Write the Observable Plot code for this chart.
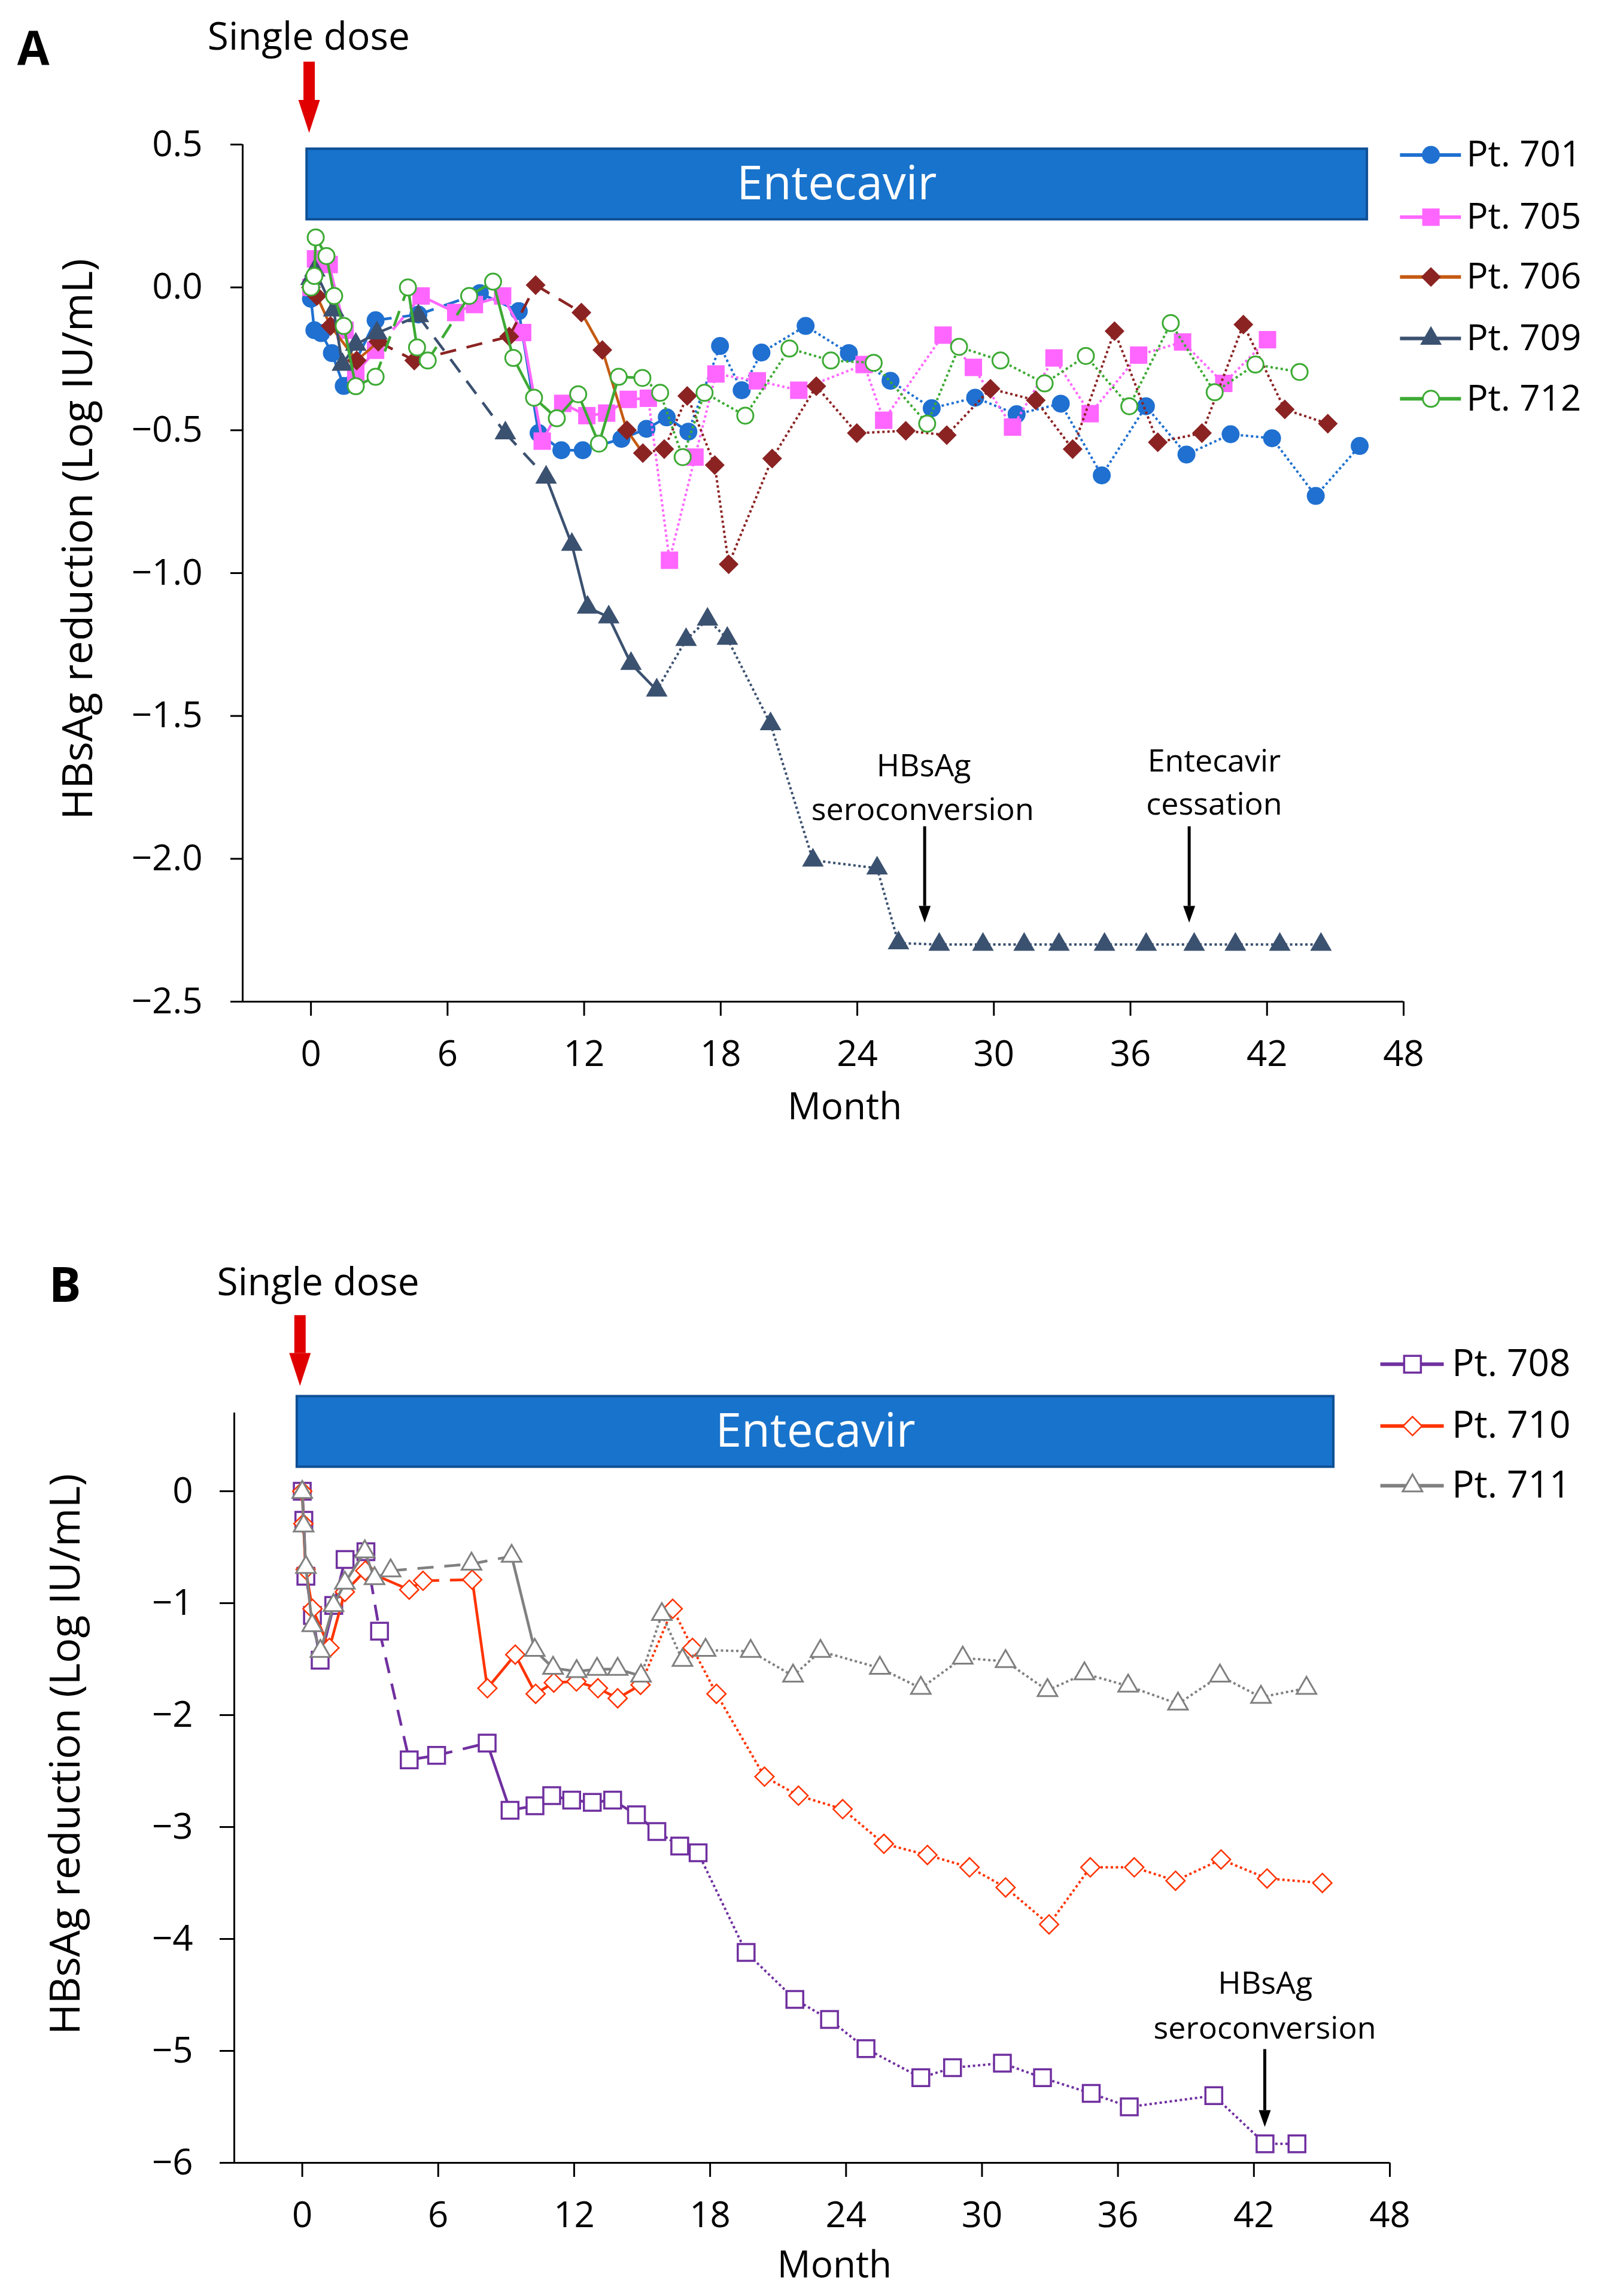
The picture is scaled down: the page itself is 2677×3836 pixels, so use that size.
<!DOCTYPE html>
<html><head><meta charset="utf-8">
<script src="https://cdn.jsdelivr.net/npm/d3@7"></script>
<script src="https://cdn.jsdelivr.net/npm/@observablehq/plot@0.6"></script>
<style>
html,body{margin:0;padding:0;background:#fff;}
#chart{width:2677px;height:3836px;position:relative;background:#fff;}
#chart svg{display:block;}
#chart g[aria-label^="x-axis"] text,#chart g[aria-label^="y-axis"] text{font-size:60px;font-family:'Open Sans',sans-serif;fill:#000;}
#chart g[aria-label^="x-axis"] path,#chart g[aria-label^="y-axis"] path,#chart g[aria-label^="x-axis"] line,#chart g[aria-label^="y-axis"] line{stroke-width:3px;stroke:#000;}
</style></head><body><div id="chart"></div>
<script>
// ---------------- Panel A data ----------------
const pt701Month = [0,0.15,0.45,0.92,1.44,2.84,4.72,7.42,9.13,10.0,11.0,11.94,13.64,14.74,15.63,16.58,17.97,18.92,19.79,21.73,23.63,25.46,27.27,29.18,31.0,32.94,34.74,36.68,38.46,40.4,42.22,44.14,46.07];
const pt701Value = [-0.04,-0.15,-0.16,-0.23,-0.345,-0.115,-0.095,-0.02,-0.083,-0.51,-0.57,-0.57,-0.53,-0.495,-0.455,-0.505,-0.205,-0.36,-0.228,-0.135,-0.23,-0.327,-0.423,-0.386,-0.444,-0.407,-0.658,-0.416,-0.585,-0.514,-0.528,-0.73,-0.555];
const pt705Month = [0,0.2,0.8,1.5,1.97,2.84,4.84,6.36,7.18,8.42,9.3,10.16,11.06,12.12,12.99,13.94,14.82,15.75,16.87,17.79,19.61,21.43,24.3,25.16,27.77,29.1,30.82,32.64,34.23,36.36,38.29,40.1,42.02];
const pt705Value = [0.0,0.1,0.08,-0.15,-0.30,-0.22,-0.03,-0.088,-0.06,-0.03,-0.158,-0.538,-0.406,-0.449,-0.44,-0.392,-0.388,-0.955,-0.594,-0.303,-0.327,-0.36,-0.27,-0.465,-0.167,-0.28,-0.489,-0.247,-0.442,-0.237,-0.191,-0.336,-0.183];
const pt706Month = [0,0.26,0.86,2.01,2.96,4.54,8.71,9.87,11.88,12.8,13.88,14.58,15.52,16.53,17.74,18.35,20.26,22.2,23.98,26.13,27.93,29.85,31.84,33.46,35.3,37.2,39.14,40.96,42.78,44.67];
const pt706Value = [0.0,-0.03,-0.135,-0.256,-0.19,-0.256,-0.172,0.008,-0.088,-0.219,-0.50,-0.58,-0.566,-0.38,-0.622,-0.969,-0.599,-0.346,-0.51,-0.502,-0.517,-0.355,-0.395,-0.566,-0.153,-0.542,-0.51,-0.13,-0.427,-0.477];
const pt709Month = [0,0.17,1.0,1.38,1.97,2.9,4.72,8.54,10.33,11.46,12.15,13.08,14.06,15.19,16.48,17.42,18.29,20.19,22.05,24.87,25.81,27.6,29.52,31.33,32.86,34.86,36.69,38.8,40.61,42.56,44.37];
const pt709Value = [0.03,0.06,-0.08,-0.27,-0.2,-0.16,-0.1,-0.51,-0.665,-0.9,-1.12,-1.154,-1.317,-1.41,-1.233,-1.162,-1.229,-1.528,-2.005,-2.033,-2.295,-2.3,-2.3,-2.3,-2.3,-2.3,-2.3,-2.3,-2.3,-2.3,-2.3];
const pt712Month = [0,0.15,0.21,0.68,1.02,1.44,1.97,2.84,4.26,4.66,5.13,6.95,8.0,8.89,9.8,10.8,11.74,12.65,13.52,14.56,15.34,16.33,17.29,19.08,21.02,22.84,24.72,27.07,28.47,30.29,32.23,34.04,35.95,37.77,39.7,41.49,43.43];
const pt712Value = [0.0,0.04,0.175,0.11,-0.03,-0.135,-0.346,-0.313,0.0,-0.21,-0.256,-0.03,0.02,-0.247,-0.386,-0.458,-0.374,-0.547,-0.313,-0.317,-0.369,-0.594,-0.369,-0.449,-0.214,-0.256,-0.264,-0.477,-0.208,-0.256,-0.336,-0.24,-0.416,-0.125,-0.367,-0.27,-0.296];

// ---------------- Panel B data ----------------
const pt708Month = [0,0.07,0.16,0.45,0.79,1.39,1.89,2.81,3.41,4.72,5.93,8.16,9.17,10.27,11.01,11.89,12.8,13.7,14.75,15.65,16.66,17.47,19.59,21.74,23.27,24.88,27.3,28.7,30.9,32.67,34.82,36.5,40.23,42.49,43.9];
const pt708Value = [0,-0.26,-0.76,-1.11,-1.51,-1.02,-0.61,-0.54,-1.25,-2.40,-2.36,-2.25,-2.85,-2.81,-2.72,-2.76,-2.78,-2.76,-2.89,-3.04,-3.17,-3.23,-4.12,-4.54,-4.72,-4.98,-5.24,-5.15,-5.11,-5.24,-5.38,-5.50,-5.40,-5.83,-5.83];
const pt710Month = [0,0.05,0.15,0.45,1.2,1.88,2.78,4.72,5.33,7.5,8.17,9.4,10.3,11.1,12.1,13.05,13.92,14.93,16.35,17.22,18.28,20.4,21.9,23.85,25.67,27.59,29.45,31.04,32.96,34.78,36.72,38.54,40.55,42.58,45.02];
const pt710Value = [0,-0.29,-0.70,-1.05,-1.40,-0.90,-0.71,-0.88,-0.80,-0.79,-1.76,-1.46,-1.81,-1.71,-1.70,-1.76,-1.85,-1.73,-1.05,-1.40,-1.81,-2.55,-2.72,-2.84,-3.15,-3.25,-3.36,-3.54,-3.87,-3.36,-3.36,-3.48,-3.29,-3.46,-3.50];
const pt711Month = [0,0.06,0.16,0.44,0.8,1.38,1.88,2.76,3.19,3.9,7.47,9.24,10.26,11.07,12.11,13.01,13.92,14.95,15.87,16.78,17.8,19.79,21.66,22.87,25.49,27.3,29.15,31.04,32.89,34.52,36.45,38.65,40.5,42.31,44.32];
const pt711Value = [-0.01,-0.31,-0.68,-1.20,-1.43,-1.02,-0.82,-0.54,-0.78,-0.71,-0.65,-0.58,-1.42,-1.58,-1.61,-1.59,-1.59,-1.65,-1.10,-1.51,-1.42,-1.43,-1.65,-1.43,-1.58,-1.76,-1.49,-1.52,-1.78,-1.63,-1.74,-1.90,-1.65,-1.84,-1.76];

// axis ticks and labels
const xTicks = [0,6,12,18,24,30,36,42,48];
const yTicksA = [0.5,0,-0.5,-1,-1.5,-2,-2.5];
const yTicksB = [0,-1,-2,-3,-4,-5,-6];
const xLabel = "Month";
const yLabel = "HBsAg reduction (Log IU/mL)";

// line style periods (segment style by month of segment end)
const styles701 = [[2.84,"solid"],[7.42,"dashed"],[16.58,"solid"],[99,"dotted"]];
const styles705 = [[2.84,"solid"],[4.84,"dashed"],[14.82,"solid"],[99,"dotted"]];
const styles706 = [[2.96,"solid"],[11.88,"dashed"],[14.58,"solid"],[99,"dotted"]];
const styles709 = [[2.9,"solid"],[10.33,"dashed"],[15.19,"solid"],[99,"dotted"]];
const styles712 = [[2.84,"solid"],[4.26,"dashed"],[5.13,"solid"],[6.95,"dashed"],[14.56,"solid"],[99,"dotted"]];
const styles708 = [[2.81,"solid"],[4.72,"dashed"],[5.93,"solid"],[8.16,"dashed"],[15.65,"solid"],[99,"dotted"]];
const styles710 = [[5.33,"solid"],[7.5,"dashed"],[14.93,"solid"],[99,"dotted"]];
const styles711 = [[3.9,"solid"],[9.24,"dashed"],[14.95,"solid"],[99,"dotted"]];

const seriesA = [
  {name:"Pt. 701", months:pt701Month, values:pt701Value, styles:styles701, color:"#1f70d0", symbol:"circle", r:15, fill:"#1f70d0", stroke:"none", sw:0},
  {name:"Pt. 705", months:pt705Month, values:pt705Value, styles:styles705, color:"#ff66ff", symbol:"square", r:16.4, fill:"#ff66ff", stroke:"none", sw:0},
  {name:"Pt. 706", months:pt706Month, values:pt706Value, styles:styles706, color:"#8b2323", solidColor:"#c55a11", legendColor:"#c55a11", symbol:"diamond2", r:14.9, fill:"#8b2323", stroke:"none", sw:0},
  {name:"Pt. 709", months:pt709Month, values:pt709Value, styles:styles709, color:"#3b5170", symbol:"triangle", r:13.4, fill:"#3b5170", stroke:"none", sw:0},
  {name:"Pt. 712", months:pt712Month, values:pt712Value, styles:styles712, color:"#3daa34", symbol:"circle", r:13.5, fill:"white", stroke:"#3daa34", sw:3}
];
const seriesB = [
  {name:"Pt. 708", months:pt708Month, values:pt708Value, styles:styles708, color:"#7030a0", symbol:"square", r:15.8, fill:"white", stroke:"#7030a0", sw:3.5},
  {name:"Pt. 710", months:pt710Month, values:pt710Value, styles:styles710, color:"#ff3300", symbol:"diamond2", r:14.2, fill:"white", stroke:"#ff3300", sw:2.5},
  {name:"Pt. 711", months:pt711Month, values:pt711Value, styles:styles711, color:"#808080", symbol:"triangle", r:12.2, fill:"white", stroke:"#808080", sw:3}
];

const dashes = {solid: null, dashed: "27,18", dotted: "4,4.5"};
const widths = {solid: 4.5, dashed: 4.5, dotted: 4};

function segmentsOf(s) {
  const out = [];
  for (let i = 1; i < s.months.length; i++) {
    const end = s.months[i];
    const st = s.styles.find(([e]) => end <= e + 1e-9)[1];
    out.push({x1: s.months[i-1], y1: s.values[i-1], x2: end, y2: s.values[i], style: st,
      color: (st === "solid" && s.solidColor) ? s.solidColor : s.color});
  }
  return out;
}
function seriesMarks(s) {
  const segs = segmentsOf(s);
  const marks = ["solid","dashed","dotted"].map(st => {
    const o = {x1:"x1", y1:"y1", x2:"x2", y2:"y2", stroke: d => d.color, strokeWidth: widths[st]};
    if (dashes[st]) o.strokeDasharray = dashes[st];
    return Plot.link(segs.filter(d => d.style === st), o);
  });
  const pts = s.months.map((m, i) => ({x: m, y: s.values[i]}));
  marks.push(Plot.dot(pts, {x:"x", y:"y", symbol: s.symbol, r: s.r, fill: s.fill, stroke: s.stroke, strokeWidth: s.sw}));
  return marks;
}
function legendMarks(series, rows, lx1, lx2, mx, tx, fs) {
  const marks = [];
  series.forEach((s, i) => {
    const row = [{y: rows[i]}];
    marks.push(Plot.link(row, {x1: () => lx1, x2: () => lx2, y1: "y", y2: "y", stroke: s.legendColor || s.color, strokeWidth: 6}));
    marks.push(Plot.dot(row, {x: () => mx, y: "y", symbol: s.symbol, r: s.r, fill: s.fill, stroke: s.stroke, strokeWidth: s.sw}));
    marks.push(Plot.text(row, {x: () => tx, y: "y", text: () => s.name, textAnchor: "start", lineAnchor: "middle", fontSize: fs, fontFamily: "Open Sans"}));
  });
  return marks;
}
const headDown = (w, h) => ({draw(ctx) { ctx.moveTo(-w/2, 0); ctx.lineTo(w/2, 0); ctx.lineTo(0, h); ctx.closePath(); }});
function arrowMarks(a, color, width, hw, hh) {
  return [
    Plot.link([a], {x1:"x", x2:"x", y1:"yTop", y2:"yHead", stroke: color, strokeWidth: width}),
    Plot.dot([a], {x:"x", y:"yHead", symbol: headDown(hw, hh), r: 10, fill: color, stroke: "none"})
  ];
}
function textMarks(items, opts) {
  return Plot.text(items, {x:"x", y:"y", text:"t", lineAnchor:"middle", textAnchor:"middle", fontFamily:"Open Sans", ...opts});
}

// ---------------- Panel A annotations ----------------
const barA = [{x1:-0.18, x2:46.4, y1:0.2374, y2:0.4845}];
const barTextA = [{x:23.1, y:0.361, t:"Entecavir"}];
const doseArrowA = {x:-0.08, yTop:0.79, yHead:0.656};
const doseTextA = [{x:-0.1, y:0.875, t:"Single dose"}];
const panelLetterA = [{x:-12.2, y:0.832, t:"A"}];
const seroArrowA = {x:26.96, yTop:-1.886, yHead:-2.165};
const seroTextA = [{x:26.92, y:-1.677, t:"HBsAg"}, {x:26.87, y:-1.83, t:"seroconversion"}];
const cessArrowA = {x:38.58, yTop:-1.886, yHead:-2.165};
const cessTextA = [{x:39.68, y:-1.66, t:"Entecavir"}, {x:39.68, y:-1.81, t:"cessation"}];
const xTitleA = [{x:23.45, y:-2.87, t:xLabel}];
const yTitleA = [{x:-10.2, y:-0.881, t:yLabel}];

const plotA = Plot.plot({
  width: 2677, height: 1900,
  marginLeft: 405, marginRight: 332, marginTop: 241, marginBottom: 227,
  style: {fontFamily: "'Open Sans', sans-serif", fontSize: "60px", color: "#000", background: "#fff", overflow: "visible"},
  color: {type: "identity"},
  x: {domain: [-3, 48], ticks: xTicks, tickSize: 24, tickPadding: 41, label: null},
  y: {domain: [-2.5, 0.5], ticks: yTicksA, tickFormat: d3.format(".1f"), tickSize: 20, tickPadding: 47, label: null},
  marks: [
    Plot.ruleX([-3], {stroke: "#000", strokeWidth: 3}),
    Plot.ruleY([-2.5], {stroke: "#000", strokeWidth: 3}),
    Plot.rect(barA, {x1:"x1", x2:"x2", y1:"y1", y2:"y2", fill:"#1873cc", stroke:"#0e4f94", strokeWidth:4}),
    textMarks(barTextA, {fill:"#fff", fontSize:78}),
    ...arrowMarks(doseArrowA, "#e00000", 19, 36, 55),
    textMarks(doseTextA, {fontSize:64}),
    textMarks(panelLetterA, {fontSize:78, fontWeight:"bold"}),
    ...seriesA.flatMap(seriesMarks),
    ...arrowMarks(seroArrowA, "#000", 5, 20, 28),
    ...arrowMarks(cessArrowA, "#000", 5, 20, 28),
    textMarks(seroTextA, {fontSize:52}),
    textMarks(cessTextA, {fontSize:52}),
    textMarks(xTitleA, {fontSize:62}),
    textMarks(yTitleA, {fontSize:70, rotate:-90}),
    ...legendMarks(seriesA, [0.4636, 0.2458, 0.0365, -0.179, -0.39], 47.84, 50.52, 49.2, 50.76, 60)
  ]
});

// ---------------- Panel B annotations ----------------
const barB = [{x1:-0.23, x2:45.52, y1:0.216, y2:0.847}];
const barTextB = [{x:22.65, y:0.532, t:"Entecavir"}];
const doseArrowB = {x:-0.1, yTop:1.573, yHead:1.235};
const doseTextB = [{x:0.7, y:1.858, t:"Single dose"}];
const panelLetterB = [{x:-10.47, y:1.83, t:"B"}];
const seroArrowB = {x:42.48, yTop:-4.984, yHead:-5.53};
const seroTextB = [{x:42.5, y:-4.40, t:"HBsAg"}, {x:42.48, y:-4.80, t:"seroconversion"}];
const xTitleB = [{x:23.49, y:-6.92, t:xLabel}];
const yTitleB = [{x:-10.42, y:-2.35, t:yLabel}];

const plotB = Plot.plot({
  width: 2677, height: 1936,
  marginLeft: 391, marginRight: 355, marginTop: 460, marginBottom: 223,
  style: {fontFamily: "'Open Sans', sans-serif", fontSize: "60px", color: "#000", background: "#fff", overflow: "visible"},
  color: {type: "identity"},
  x: {domain: [-3, 48], ticks: xTicks, tickSize: 24, tickPadding: 41, label: null},
  y: {domain: [-6, 0.7], ticks: yTicksB, tickFormat: d3.format("d"), tickSize: 24, tickPadding: 45, label: null},
  marks: [
    Plot.ruleX([-3], {stroke: "#000", strokeWidth: 3}),
    Plot.ruleY([-6], {stroke: "#000", strokeWidth: 3}),
    Plot.rect(barB, {x1:"x1", x2:"x2", y1:"y1", y2:"y2", fill:"#1873cc", stroke:"#0e4f94", strokeWidth:4}),
    textMarks(barTextB, {fill:"#fff", fontSize:78}),
    ...arrowMarks(doseArrowB, "#e00000", 19, 36, 55),
    textMarks(doseTextB, {fontSize:64}),
    textMarks(panelLetterB, {fontSize:80, fontWeight:"bold"}),
    ...seriesB.flatMap(seriesMarks),
    ...arrowMarks(seroArrowB, "#000", 5, 20, 28),
    textMarks(seroTextB, {fontSize:52}),
    textMarks(xTitleB, {fontSize:62}),
    textMarks(yTitleB, {fontSize:70, rotate:-90}),
    ...legendMarks(seriesB, [1.135, 0.582, 0.049], 47.58, 50.38, 49.0, 50.74, 62)
  ]
});

const chart = document.getElementById("chart");
chart.appendChild(plotA);
chart.appendChild(plotB);
</script>
</body></html>
